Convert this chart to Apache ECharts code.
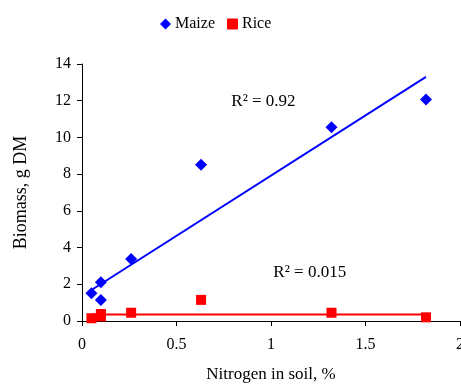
<!DOCTYPE html>
<html><head><meta charset="utf-8">
<script src="https://cdn.jsdelivr.net/npm/echarts@6/dist/echarts.min.js"></script>
<style>html,body{margin:0;padding:0;background:#fff}#c{width:461px;height:388px}</style>
</head><body><div id="c"></div>
<script>
var maizeData = [[0.05,1.51],[0.1,2.11],[0.1,1.15],[0.26,3.38],[0.63,8.51],[1.32,10.55],[1.82,12.06]];
var riceData = [[0.05,0.15],[0.1,0.38],[0.1,0.25],[0.26,0.45],[0.63,1.15],[1.32,0.45],[1.82,0.2]];
var maizeTrend = [[0.05,1.69],[1.82,13.3]];
var riceTrend = [[0.05,0.36],[1.82,0.36]];
var xTicks = [0,0.5,1,1.5,2];
var yTicks = [0,2,4,6,8,10,12,14];
var labels = {maizeR2:'R² = 0.92', riceR2:'R² = 0.015'};
var labelPos = {maizeR2:[0.96,11.95], riceR2:[1.205,2.62]};

var font = 'Liberation Serif';
var chart = echarts.init(document.getElementById('c'), null, {renderer:'canvas'});
function note(txt, pos){
  return {symbol:'rect',symbolSize:1,itemStyle:{color:'rgba(0,0,0,0)'},coord:pos,
    label:{show:true,position:'inside',formatter:txt,fontFamily:font,fontSize:17,color:'#000'}};
}
chart.setOption({
  animation:false,
  textStyle:{fontFamily:font},
  legend:{
    top:11, left:155, itemGap:12, itemWidth:11, itemHeight:11,
    textStyle:{fontFamily:font,fontSize:16,color:'#000',padding:[0,0,0,-1]},
    data:[{name:'Maize',icon:'diamond'},{name:'Rice',icon:'rect'}]
  },
  grid:{left:82,right:1,top:64,bottom:67,containLabel:false,outerBoundsMode:'none'},
  xAxis:{
    type:'value',min:0,max:2,interval:0.5,
    name:'Nitrogen in soil, %',nameLocation:'middle',nameGap:45,
    nameTextStyle:{fontFamily:font,fontSize:17,color:'#000'},
    axisLine:{show:true,lineStyle:{color:'#000',width:1}},
    axisTick:{show:true,length:5,lineStyle:{color:'#000'}},
    axisLabel:{fontFamily:font,fontSize:16,color:'#000',margin:16,formatter:function(v){return String(v);}},
    splitLine:{show:false}
  },
  yAxis:{
    type:'value',min:0,max:14,interval:2,
    name:'Biomass, g DM',nameLocation:'middle',nameGap:52,
    nameTextStyle:{fontFamily:font,fontSize:18,color:'#000'},
    axisLine:{show:true,lineStyle:{color:'#000',width:1}},
    axisTick:{show:true,length:5,lineStyle:{color:'#000'}},
    axisLabel:{fontFamily:font,fontSize:16,color:'#000',margin:11},
    splitLine:{show:false}
  },
  series:[
    {name:'Maize',type:'scatter',data:maizeData,symbol:'diamond',symbolSize:12,
     itemStyle:{color:'#0000ff',opacity:1},z:3},
    {name:'Rice',type:'scatter',data:riceData,symbol:'rect',symbolSize:10,
     itemStyle:{color:'#ff0000',opacity:1},z:3},
    {name:'MaizeTrend',type:'line',data:maizeTrend,symbol:'none',
     lineStyle:{color:'#0000ff',width:2},z:2,
     markPoint:{data:[note(labels.maizeR2,labelPos.maizeR2)]}},
    {name:'RiceTrend',type:'line',data:riceTrend,symbol:'none',
     lineStyle:{color:'#ff0000',width:2},z:2,
     markPoint:{data:[note(labels.riceR2,labelPos.riceR2)]}}
  ]
});
</script></body></html>
